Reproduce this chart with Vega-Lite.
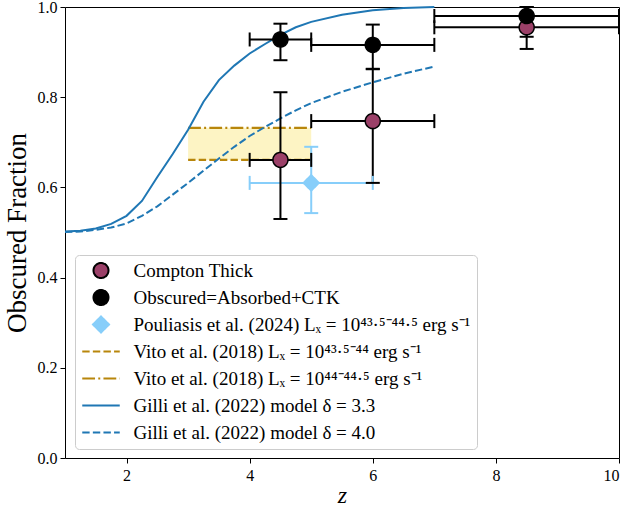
{
  "$schema": "https://vega.github.io/schema/vega-lite/v6.json",
  "width": 554,
  "height": 451,
  "autosize": {"type": "none"},
  "padding": {"left": 65, "top": 7, "right": 3, "bottom": 51},
  "background": "white",
  "config": {
    "view": {"stroke": "black", "strokeWidth": 1},
    "axis": {
      "domain": false, "grid": false, "tickColor": "black", "tickSize": 5, "tickWidth": 1,
      "labelFont": "Liberation Serif", "labelFontSize": 16, "labelColor": "black",
      "titleFont": "Liberation Serif", "titleFontWeight": "normal", "titleColor": "black"
    },
    "legend": {
      "fillColor": "rgba(255,255,255,0.8)", "strokeColor": "#cccccc", "cornerRadius": 4,
      "padding": 6, "labelFont": "Liberation Serif", "labelFontSize": 19, "labelColor": "black",
      "labelLimit": 600, "rowPadding": 7, "symbolSize": 225, "symbolStrokeWidth": 2,
      "symbolOffset": 10.5, "labelOffset": 23, "gridAlign": "all", "clipHeight": 19
    }
  },
  "datasets": {
    "gilli": [
      {"series": "G33", "z": 1.0, "f": 0.502}, {"series": "G33", "z": 1.25, "f": 0.504},
      {"series": "G33", "z": 1.5, "f": 0.509}, {"series": "G33", "z": 1.75, "f": 0.519},
      {"series": "G33", "z": 2.0, "f": 0.537}, {"series": "G33", "z": 2.25, "f": 0.570},
      {"series": "G33", "z": 2.5, "f": 0.623}, {"series": "G33", "z": 2.75, "f": 0.674},
      {"series": "G33", "z": 3.0, "f": 0.728}, {"series": "G33", "z": 3.25, "f": 0.790},
      {"series": "G33", "z": 3.5, "f": 0.838}, {"series": "G33", "z": 3.75, "f": 0.870},
      {"series": "G33", "z": 4.0, "f": 0.897}, {"series": "G33", "z": 4.25, "f": 0.918},
      {"series": "G33", "z": 4.5, "f": 0.938}, {"series": "G33", "z": 4.75, "f": 0.955},
      {"series": "G33", "z": 5.0, "f": 0.967}, {"series": "G33", "z": 5.5, "f": 0.983},
      {"series": "G33", "z": 6.0, "f": 0.993}, {"series": "G33", "z": 6.5, "f": 0.998},
      {"series": "G33", "z": 7.0, "f": 1.0},
      {"series": "G40", "z": 1.0, "f": 0.501}, {"series": "G40", "z": 1.25, "f": 0.502},
      {"series": "G40", "z": 1.5, "f": 0.506}, {"series": "G40", "z": 1.75, "f": 0.511},
      {"series": "G40", "z": 2.0, "f": 0.520}, {"series": "G40", "z": 2.25, "f": 0.537},
      {"series": "G40", "z": 2.5, "f": 0.558}, {"series": "G40", "z": 2.75, "f": 0.584},
      {"series": "G40", "z": 3.0, "f": 0.610}, {"series": "G40", "z": 3.25, "f": 0.637},
      {"series": "G40", "z": 3.5, "f": 0.664}, {"series": "G40", "z": 3.75, "f": 0.690},
      {"series": "G40", "z": 4.0, "f": 0.714}, {"series": "G40", "z": 4.25, "f": 0.734},
      {"series": "G40", "z": 4.5, "f": 0.753}, {"series": "G40", "z": 4.75, "f": 0.771},
      {"series": "G40", "z": 5.0, "f": 0.787}, {"series": "G40", "z": 5.5, "f": 0.812},
      {"series": "G40", "z": 6.0, "f": 0.833}, {"series": "G40", "z": 6.5, "f": 0.852},
      {"series": "G40", "z": 7.0, "f": 0.868}
    ],
    "pts": [
      {"series": "Pou", "z": 5.0, "f": 0.610, "zlo": 4.0, "zhi": 6.0, "flo": 0.543, "fhi": 0.690},
      {"series": "CT", "z": 4.5, "f": 0.661, "zlo": 4.0, "zhi": 5.0, "flo": 0.530, "fhi": 0.811},
      {"series": "CT", "z": 6.0, "f": 0.747, "zlo": 5.0, "zhi": 7.0, "flo": 0.610, "fhi": 0.862},
      {"series": "CT", "z": 8.5, "f": 0.955, "zlo": 7.0, "zhi": 10.0, "flo": 0.907, "fhi": 1.0},
      {"series": "Obs", "z": 4.5, "f": 0.928, "zlo": 4.0, "zhi": 5.0, "flo": 0.882, "fhi": 0.963},
      {"series": "Obs", "z": 6.0, "f": 0.916, "zlo": 5.0, "zhi": 7.0, "flo": 0.863, "fhi": 0.961},
      {"series": "Obs", "z": 8.5, "f": 0.980, "zlo": 7.0, "zhi": 10.0, "flo": 0.934, "fhi": 1.0}
    ],
    "vito": [
      {"series": "V1", "zlo": 3.0, "zhi": 5.0, "f": 0.661},
      {"series": "V2", "zlo": 3.0, "zhi": 5.0, "f": 0.732}
    ],
    "band": [
      {"zlo": 3.0, "zhi": 5.0, "flo": 0.661, "fhi": 0.732}
    ]
  },
  "encoding": {
    "x": {"type": "quantitative", "scale": {"domain": [1, 10], "nice": false, "zero": false},
      "axis": {"values": [2, 4, 6, 8, 10], "title": "z", "titleFontStyle": "italic", "titleFontSize": 24, "titlePadding": 0, "labelPadding": 4}},
    "y": {"type": "quantitative", "scale": {"domain": [0, 1], "nice": false, "zero": false},
      "axis": {"values": [0, 0.2, 0.4, 0.6, 0.8, 1.0], "format": ".1f", "title": "Obscured Fraction", "titleFontSize": 27, "titlePadding": 6, "labelPadding": 3}}
  },
  "layer": [
    {
      "data": {"name": "band"},
      "mark": {"type": "rect", "fill": "#fdf4c4", "stroke": null},
      "encoding": {"x": {"field": "zlo"}, "x2": {"field": "zhi"}, "y": {"field": "flo"}, "y2": {"field": "fhi"}}
    },
    {
      "data": {"name": "vito"},
      "transform": [{"filter": "datum.series == 'V1'"}],
      "mark": {"type": "rule", "strokeWidth": 2.2, "color": "#b8860b", "strokeDash": [7.4, 3.2]},
      "encoding": {"x": {"field": "zlo"}, "x2": {"field": "zhi"}, "y": {"field": "f"}}
    },
    {
      "data": {"name": "vito"},
      "transform": [{"filter": "datum.series == 'V2'"}],
      "mark": {"type": "rule", "strokeWidth": 2.2, "color": "#b8860b", "strokeDash": [12.8, 3.2, 2, 3.2]},
      "encoding": {"x": {"field": "zlo"}, "x2": {"field": "zhi"}, "y": {"field": "f"}}
    },
    {
      "data": {"name": "gilli"},
      "transform": [{"filter": "datum.series == 'G33'"}],
      "mark": {"type": "line", "strokeWidth": 2, "color": "#1f77b4"},
      "encoding": {"x": {"field": "z"}, "y": {"field": "f"}}
    },
    {
      "data": {"name": "gilli"},
      "transform": [{"filter": "datum.series == 'G40'"}],
      "mark": {"type": "line", "strokeWidth": 2, "color": "#1f77b4", "strokeDash": [7.4, 3.2]},
      "encoding": {"x": {"field": "z"}, "y": {"field": "f"}}
    },
    {
      "data": {"name": "pts"},
      "mark": {"type": "rule", "strokeWidth": 2},
      "encoding": {
        "x": {"field": "zlo"}, "x2": {"field": "zhi"}, "y": {"field": "f"},
        "color": {"field": "series", "type": "nominal", "legend": null,
          "scale": {"domain": ["CT", "Obs", "Pou"], "range": ["black", "black", "#87cefa"]}}
      }
    },
    {
      "data": {"name": "pts"},
      "mark": {"type": "rule", "strokeWidth": 2},
      "encoding": {
        "x": {"field": "z"}, "y": {"field": "flo"}, "y2": {"field": "fhi"},
        "color": {"field": "series", "type": "nominal", "legend": null}
      }
    },
    {
      "data": {"name": "pts"},
      "mark": {"type": "tick", "orient": "vertical", "size": 14, "thickness": 2, "opacity": 1},
      "encoding": {"x": {"field": "zlo"}, "y": {"field": "f"}, "color": {"field": "series", "type": "nominal", "legend": null}}
    },
    {
      "data": {"name": "pts"},
      "mark": {"type": "tick", "orient": "vertical", "size": 14, "thickness": 2, "opacity": 1},
      "encoding": {"x": {"field": "zhi"}, "y": {"field": "f"}, "color": {"field": "series", "type": "nominal", "legend": null}}
    },
    {
      "data": {"name": "pts"},
      "mark": {"type": "tick", "orient": "horizontal", "size": 14, "thickness": 2, "opacity": 1},
      "encoding": {"x": {"field": "z"}, "y": {"field": "flo"}, "color": {"field": "series", "type": "nominal", "legend": null}}
    },
    {
      "data": {"name": "pts"},
      "mark": {"type": "tick", "orient": "horizontal", "size": 14, "thickness": 2, "opacity": 1},
      "encoding": {"x": {"field": "z"}, "y": {"field": "fhi"}, "color": {"field": "series", "type": "nominal", "legend": null}}
    },
    {
      "data": {"name": "pts"},
      "mark": {"type": "point", "filled": true, "size": 225, "strokeWidth": 1.5, "opacity": 1},
      "encoding": {
        "x": {"field": "z"}, "y": {"field": "f"},
        "fill": {"field": "series", "type": "nominal",
          "scale": {"domain": ["CT", "Obs", "Pou", "V1", "V2", "G33", "G40"], "range": ["#9b4068", "black", "#87cefa", "transparent", "transparent", "transparent", "transparent"]},
          "legend": {"title": null, "orient": "none", "legendX": 10, "legendY": 248, "labelExpr": "datum.value == 'CT' ? 'Compton Thick' : datum.value == 'Obs' ? 'Obscured=Absorbed+CTK' : datum.value == 'Pou' ? 'Pouliasis et al. (2024) Lₓ = 10⁴³·⁵⁻⁴⁴·⁵ erg s⁻¹' : datum.value == 'V1' ? 'Vito et al. (2018) Lₓ = 10⁴³·⁵⁻⁴⁴ erg s⁻¹' : datum.value == 'V2' ? 'Vito et al. (2018) Lₓ = 10⁴⁴⁻⁴⁴·⁵ erg s⁻¹' : datum.value == 'G33' ? 'Gilli et al. (2022) model δ = 3.3' : 'Gilli et al. (2022) model δ = 4.0'"}},
        "stroke": {"field": "series", "type": "nominal",
          "scale": {"domain": ["CT", "Obs", "Pou", "V1", "V2", "G33", "G40"], "range": ["black", "black", "#87cefa", "#b8860b", "#b8860b", "#1f77b4", "#1f77b4"]},
          "legend": {"title": null, "orient": "none", "legendX": 10, "legendY": 248}},
        "shape": {"field": "series", "type": "nominal",
          "scale": {"domain": ["CT", "Obs", "Pou", "V1", "V2", "G33", "G40"], "range": ["circle", "circle", "M-1.07,0L0,-1.07L1.07,0L0,1.07Z", "M-2.5,0H2.5", "M-2.5,0H2.5", "M-2.5,0H2.5", "M-2.5,0H2.5"]},
          "legend": {"title": null, "orient": "none", "legendX": 10, "legendY": 248}},
        "strokeDash": {"field": "series", "type": "nominal",
          "scale": {"domain": ["CT", "Obs", "Pou", "V1", "V2", "G33", "G40"], "range": [[1, 0], [1, 0], [1, 0], [7.4, 3.2], [12.8, 3.2, 2, 3.2], [1, 0], [7.4, 3.2]]},
          "legend": {"title": null, "orient": "none", "legendX": 10, "legendY": 248}}
      }
    }
  ]
}
